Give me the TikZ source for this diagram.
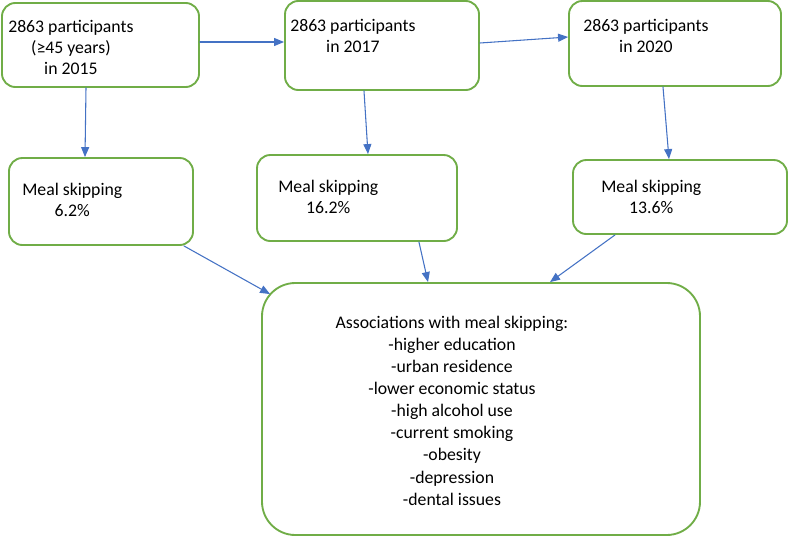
\documentclass[tikz,border=0pt]{standalone}
\usepackage{fontspec}
\setmainfont{Carlito}
\usetikzlibrary{arrows.meta,calc}

\definecolor{boxgreen}{HTML}{70AD47}
\definecolor{arrowblue}{HTML}{4472C4}

\begin{document}
\begin{tikzpicture}[x=0.75pt, y=-0.75pt, line cap=round, line join=round,
  box/.style={draw=boxgreen, line width=1.4pt, rounded corners=10pt, inner sep=0pt},
  boxtext/.style={inner sep=0pt, align=center, anchor=north west,
    font=\fontsize{13.3}{15.9}\selectfont},
  link/.style={draw=arrowblue, line width=0.8pt, -{Triangle[length=7.5pt,width=6pt]}}]

% ----------------- Parameters (1 px of the sketch = 0.75pt) -----------------
\def\pxu{0.75pt}

% ----------------- Canvas -----------------
\useasboundingbox (0,0) rectangle (789,536);

% ----------------- Top row: the three waves -----------------
\node[box, minimum width=197*\pxu, minimum height=84*\pxu] (w15) at (100.5,45) {};
\node[box, minimum width=194*\pxu, minimum height=89*\pxu] (w17) at (382,45.5) {};
\node[box, minimum width=212*\pxu, minimum height=85*\pxu] (w20) at (675,43.5) {};

\node[boxtext] (t15) at (8,20) {2863 participants\\(≥45 years)\\in 2015};
\node[boxtext] (t17) at (290,19) {2863 participants\\in 2017};
\node[boxtext] (t20) at (583,18.5) {2863 participants\\in 2020};

% ----------------- Middle row: meal skipping -----------------
\node[box, minimum width=184*\pxu, minimum height=87*\pxu] (m15) at (101,201.5) {};
\node[box, minimum width=200*\pxu, minimum height=86*\pxu] (m17) at (357,198) {};
\node[box, minimum width=214*\pxu, minimum height=74*\pxu] (m20) at (680,197) {};

\node[boxtext] (s15) at (22,183) {Meal skipping\\6.2\%};
\node[boxtext] (s17) at (278,180) {Meal skipping\\16.2\%};
\node[boxtext] (s20) at (601,180) {Meal skipping\\13.6\%};

% ----------------- Bottom: associations -----------------
\node[box, rounded corners=25pt, minimum width=438*\pxu, minimum height=252*\pxu] (assoc) at (481,409) {};
\node[boxtext, anchor=north, font=\fontsize{13.3}{16.6}\selectfont] (alist) at (452,315.5)
  {Associations with meal skipping:\\-higher education\\-urban residence\\
   -lower economic status\\-high alcohol use\\-current smoking\\-obesity\\
   -depression\\-dental issues};

% ----------------- Arrows between waves -----------------
\draw[link] ($(w15.east)+(0,-3)$) -- ($(w17.west)+(0,-3.5)$);
\draw[link] ($(w17.east)+(0,-2.5)$) -- ($(w20.west)+(0,-6.5)$);

% ----------------- Arrows down to meal skipping -----------------
\draw[link] ($(w15.south)+(-14.5,0)$) -- ($(m15.north)+(-16,0)$);
\draw[link] ($(w17.south)+(-18,0)$) -- ($(m17.north)+(11,0)$);
\draw[link] ($(w20.south)+(-12,0)$) -- ($(m20.north)+(-11,0)$);

% ----------------- Arrows into the associations box -----------------
\draw[link] ($(m15.south east)+(-10,0)$) -- ($(assoc.north west)+(9,12)$);
\draw[link] ($(m17.south east)+(-39,0)$) -- ($(assoc.north)+(-53,0)$);
\draw[link] ($(m20.south)+(-65,0)$) -- ($(assoc.north)+(69,0)$);

\end{tikzpicture}
\end{document}
